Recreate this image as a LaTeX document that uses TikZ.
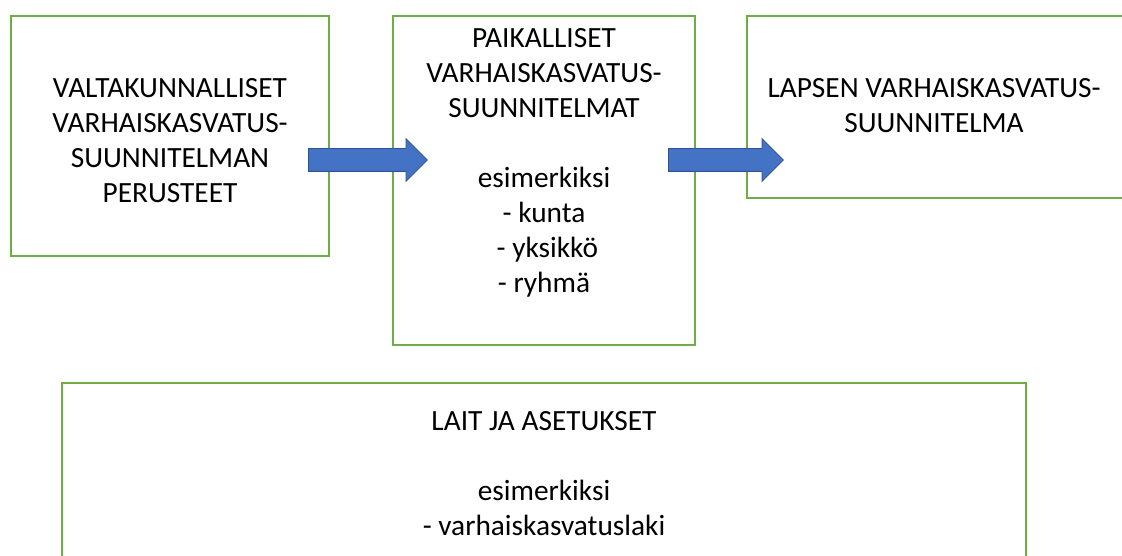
\documentclass[tikz,border=0pt]{standalone}
\usepackage{fontspec}
\setmainfont{Carlito}
\usepackage{xcolor}
\usetikzlibrary{positioning,shapes.arrows}
\definecolor{vihrea}{HTML}{70AD47}
\definecolor{sininen}{HTML}{4472C4}
\definecolor{tummasininen}{HTML}{2F528F}

\begin{document}
\begin{tikzpicture}[x=0.75pt, y=-0.75pt,
		laatikko/.style={draw=vihrea, line width=1.1pt, inner sep=0pt},
		teksti/.style={align=center, inner sep=0pt, anchor=north, font=\fontsize{22}{26.25}\selectfont},
		nuoli/.style={single arrow, fill=sininen, draw=tummasininen, line width=0.6pt, inner sep=0pt, anchor=tail,
			text height=16.5pt, text depth=0pt, single arrow head extend=7.5pt}]
		\clip (0,0) rectangle (1122,556);
		% laatikot
		\node[laatikko, minimum width=238.5pt, minimum height=180pt] (valtak) at (170,136) {};
		\node[laatikko, minimum width=226.5pt, minimum height=246.75pt] (paik) at (544,180.5) {};
		\node[laatikko, minimum width=287.25pt, minimum height=136.5pt] (lapsen) at (938.5,107) {};
		\node[laatikko, minimum width=723pt, minimum height=162.75pt] (lait) at (544,491.5) {};
		% tekstit
		\node[teksti] (valtakteksti) at (170,78.5) {VALTAKUNNALLISET\\VARHAISKASVATUS-\\SUUNNITELMAN\\PERUSTEET};
		\node[teksti] (paikteksti) at (544,28.5) {PAIKALLISET\\VARHAISKASVATUS-\\SUUNNITELMAT\\[26.25pt]esimerkiksi\\- kunta\\~- yksikkö\\- ryhmä};
		\node[teksti] (lapsenteksti) at (934,78.5) {LAPSEN VARHAISKASVATUS-\\SUUNNITELMA};
		\node[teksti] (laitteksti) at (544,411.5) {LAIT JA ASETUKSET\\[26.25pt]esimerkiksi\\- varhaiskasvatuslaki};
		% nuolet
		\node[nuoli, minimum height=89.25pt] (nuoli1) at (308,160) {};
		\node[nuoli, minimum height=86.25pt] (nuoli2) at (668,160) {};
	\end{tikzpicture}
\end{document}
